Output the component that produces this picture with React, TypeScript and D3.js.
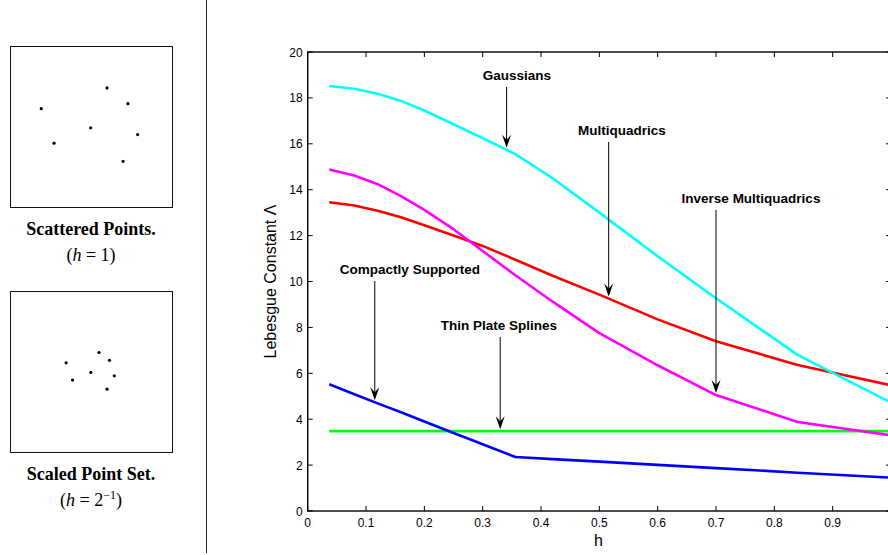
import React, { useEffect, useRef } from 'react';
import * as d3 from 'd3';

// sample points in the unit square (left panels)
const pointX = [0.193, 0.272, 0.498, 0.599, 0.728, 0.788, 0.698];
const pointY = [0.387, 0.600, 0.505, 0.259, 0.356, 0.547, 0.712];

// fill distance h and Lebesgue constants
const hValues = [0.037, 0.08, 0.12, 0.16, 0.2, 0.25, 0.3, 0.356, 0.42, 0.5, 0.6, 0.7, 0.84, 1.0];
const gaussians = [18.52, 18.4, 18.18, 17.87, 17.45, 16.85, 16.25, 15.55, 14.5, 13.0, 11.1, 9.27, 6.8, 4.72];
const multiquadrics = [13.45, 13.31, 13.08, 12.8, 12.45, 12.0, 11.55, 10.95, 10.25, 9.43, 8.35, 7.4, 6.36, 5.48];
const inverseMQ = [14.88, 14.62, 14.24, 13.72, 13.12, 12.28, 11.33, 10.27, 9.12, 7.75, 6.35, 5.05, 3.88, 3.3];
const compact = [5.52, 5.09, 4.69, 4.3, 3.9, 3.4, 2.91, 2.35, 2.26, 2.15, 2.01, 1.87, 1.67, 1.45];
const thinPlate = [3.48, 3.48, 3.48, 3.48, 3.48, 3.48, 3.48, 3.48, 3.48, 3.48, 3.48, 3.48, 3.48, 3.48];

const xTicks = [0, 0.1, 0.2, 0.3, 0.4, 0.5, 0.6, 0.7, 0.8, 0.9, 1];
const yTicks = [0, 2, 4, 6, 8, 10, 12, 14, 16, 18, 20];

// annotation label, h where the arrow points
const noteLabels = ['Gaussians', 'Multiquadrics', 'Inverse Multiquadrics', 'Compactly Supported', 'Thin Plate Splines'];
const noteH = [0.341, 0.516, 0.7, 0.115, 0.33];

const App = () => {
    const ref = useRef(null);

    useEffect(() => {
        const svg = d3.select(ref.current);
        svg.selectAll('*').remove();

        const sans = 'Helvetica, Arial, "Liberation Sans", sans-serif';
        const serif = '"Times New Roman", "Liberation Serif", serif';

        // ---- left panels
        svg.append('line')
            .attr('x1', 206.5).attr('x2', 206.5).attr('y1', 0).attr('y2', 553)
            .attr('stroke', '#222').attr('stroke-width', 1);

        const panel = (top, h, title, math) => {
            const size = 162;
            const px = d3.scaleLinear().domain([0.5 - 0.5 / h, 0.5 + 0.5 / h]).range([10, 10 + size]);
            const py = d3.scaleLinear().domain([0.5 - 0.5 / h, 0.5 + 0.5 / h]).range([top, top + size]);
            svg.append('rect')
                .attr('x', 10.5).attr('y', top + 0.5).attr('width', size).attr('height', size - 1)
                .attr('fill', 'none').attr('stroke', '#111').attr('stroke-width', 1);
            svg.selectAll(null)
                .data(pointX)
                .enter()
                .append('circle')
                .attr('cx', (d) => px(d))
                .attr('cy', (d, i) => py(pointY[i]))
                .attr('r', 1.6)
                .attr('fill', '#000');
            svg.append('text')
                .attr('x', 91).attr('y', top + size + 27)
                .attr('text-anchor', 'middle')
                .style('font-family', serif).style('font-weight', 'bold').style('font-size', '18px')
                .text(title);
            const t = svg.append('text')
                .attr('x', 91).attr('y', top + size + 53)
                .attr('text-anchor', 'middle')
                .style('font-family', serif).style('font-size', '18px');
            t.append('tspan').text('(');
            t.append('tspan').style('font-style', 'italic').text('h');
            t.append('tspan').text(' = ' + math[0]);
            if (math[1]) {
                t.append('tspan').attr('dy', -7).style('font-size', '12px').text(math[1]);
                t.append('tspan').attr('dy', 7).text(')');
            } else {
                t.append('tspan').text(')');
            }
        };
        panel(46, 1, 'Scattered Points.', ['1', '']);
        panel(291, 0.5, 'Scaled Point Set.', ['2', '\u22121']);

        // ---- main chart
        const x = d3.scaleLinear().domain([0, 1]).range([307.7, 891]);
        const y = d3.scaleLinear().domain([0, 20]).range([511, 52]);

        const chart = svg.append('g');

        chart.append('rect')
            .attr('x', x(0)).attr('y', y(20))
            .attr('width', x(1) - x(0)).attr('height', y(0) - y(20))
            .attr('fill', 'none').attr('stroke', '#000').attr('stroke-width', 1.4);

        const tl = 5;
        chart.selectAll('.xt')
            .data(xTicks)
            .enter()
            .append('path')
            .attr('d', (d) => `M${x(d)},${y(0)}v${-tl}M${x(d)},${y(20)}v${tl}`)
            .attr('stroke', '#000').attr('stroke-width', 1);
        chart.selectAll('.yt')
            .data(yTicks)
            .enter()
            .append('path')
            .attr('d', (d) => `M${x(0)},${y(d)}h${tl}M${x(1)},${y(d)}h${-tl}`)
            .attr('stroke', '#000').attr('stroke-width', 1);

        chart.selectAll('.xl')
            .data(xTicks.slice(0, 10))
            .enter()
            .append('text')
            .attr('x', (d) => x(d))
            .attr('y', y(0) + 16)
            .attr('text-anchor', 'middle')
            .style('font-family', sans).style('font-size', '12px')
            .text((d) => d3.format('')(d));
        chart.selectAll('.yl')
            .data(yTicks)
            .enter()
            .append('text')
            .attr('x', x(0) - 5)
            .attr('y', (d) => y(d) + 4.5)
            .attr('text-anchor', 'end')
            .style('font-family', sans).style('font-size', '12px')
            .text((d) => d);

        chart.append('text')
            .attr('x', (x(0) + x(1)) / 2 - 1)
            .attr('y', 546)
            .attr('text-anchor', 'middle')
            .style('font-family', sans).style('font-size', '16px')
            .text('h');
        chart.append('text')
            .attr('transform', `translate(276,${(y(0) + y(20)) / 2}) rotate(-90)`)
            .attr('text-anchor', 'middle')
            .style('font-family', sans).style('font-size', '16px')
            .text('Lebesgue Constant \u039B');

        const series = [thinPlate, compact, multiquadrics, inverseMQ, gaussians];
        const colors = ['#00ff00', '#0000ff', '#ff0000', '#ff00ff', '#00ffff'];
        const line = d3.line().x((d, i) => x(hValues[i])).y((d) => y(d));
        series.forEach((s, k) => {
            chart.append('path')
                .datum(s)
                .attr('d', line)
                .attr('fill', 'none')
                .attr('stroke', colors[k])
                .attr('stroke-width', 2.6)
                .attr('stroke-linejoin', 'round');
        });

        // annotations
        const noteSeries = [gaussians, multiquadrics, inverseMQ, compact, thinPlate];
        const noteText = [[517, 75], [622, 130], [751, 198], [410, 269], [499, 325]];
        const interp = (s, h) => {
            const i = d3.bisectLeft(hValues, h);
            const h0 = hValues[i - 1], h1 = hValues[i];
            return s[i - 1] + (s[i] - s[i - 1]) * (h - h0) / (h1 - h0);
        };
        noteLabels.forEach((label, k) => {
            const ax = x(noteH[k]);
            const tipY = y(interp(noteSeries[k], noteH[k])) - 2;
            const [tx, ty] = noteText[k];
            chart.append('text')
                .attr('x', tx).attr('y', ty + 5)
                .attr('text-anchor', 'middle')
                .style('font-family', sans).style('font-weight', 'bold').style('font-size', '13.5px')
                .text(label);
            chart.append('line')
                .attr('x1', ax).attr('x2', ax)
                .attr('y1', ty + 12).attr('y2', tipY - 6)
                .attr('stroke', '#000').attr('stroke-width', 1);
            chart.append('path')
                .attr('d', `M${ax},${tipY}L${ax - 4.5},${tipY - 13}L${ax},${tipY - 8}L${ax + 4.5},${tipY - 13}Z`)
                .attr('fill', '#000');
        });
    }, []);

    return (
        <svg ref={ref} width={888} height={555}
            style={{ position: 'absolute', left: 0, top: 0, background: '#fff' }} />
    );
};

export default App;
